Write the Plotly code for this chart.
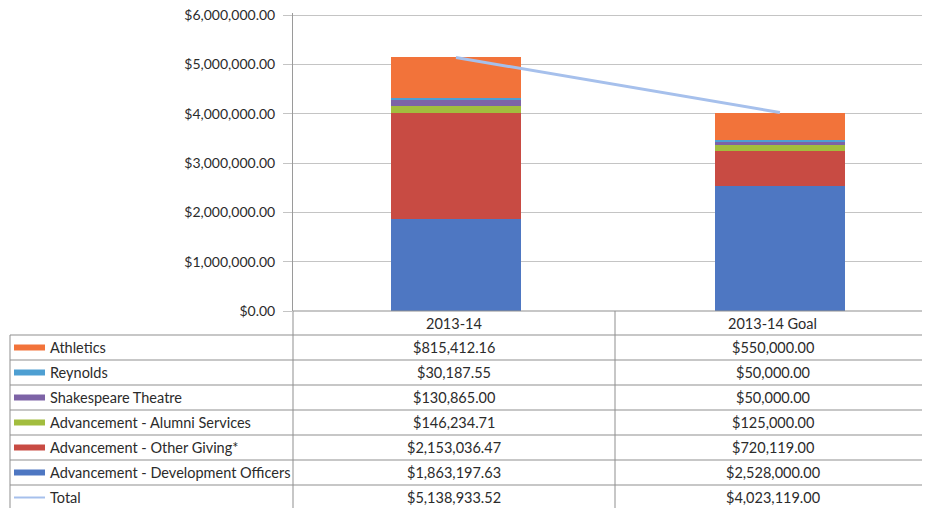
import plotly.graph_objects as go

categories = ["2013-14", "2013-14 Goal"]
series_names = [
    "Athletics",
    "Reynolds",
    "Shakespeare Theatre",
    "Advancement - Alumni Services",
    "Advancement - Other Giving*",
    "Advancement - Development Officers",
]
athletics = [815412.16, 550000.00]
reynolds = [30187.55, 50000.00]
shakespeare = [130865.00, 50000.00]
alumni = [146234.71, 125000.00]
other_giving = [2153036.47, 720119.00]
dev_officers = [1863197.63, 2528000.00]
total = [5138933.52, 4023119.00]

colors = {
    "Athletics": "#F2733A",
    "Reynolds": "#4E9FD2",
    "Shakespeare Theatre": "#7D63A6",
    "Advancement - Alumni Services": "#A2BD3E",
    "Advancement - Other Giving*": "#C84B43",
    "Advancement - Development Officers": "#4E77C2",
}
line_color = "#A6C0EC"

values = {
    "Athletics": athletics,
    "Reynolds": reynolds,
    "Shakespeare Theatre": shakespeare,
    "Advancement - Alumni Services": alumni,
    "Advancement - Other Giving*": other_giving,
    "Advancement - Development Officers": dev_officers,
}

W, H = 930, 508
OFF = 8  # page body margin offset
FONT = "Lato, 'Open Sans', sans-serif"
FS = 14.5
TICK_FS = 14
TXT = "#2b2b2b"
GRID = "#C4C4C4"


def px(x):
    return (x - OFF) / W


def py(y):
    return 1 - (y - OFF) / H


fig = go.Figure()
for name in reversed(series_names):
    fig.add_trace(go.Bar(
        x=[0, 1], y=values[name], name=name,
        marker=dict(color=colors[name], line=dict(width=0)),
        width=0.4,
    ))
fig.add_trace(go.Scatter(
    x=[0, 1], y=total, mode="lines", name="Total",
    line=dict(color=line_color, width=3),
))

plot_left, plot_bottom = 293, 311
y_max = 6.05e6
px_per_unit = 296 / 6e6
plot_top = plot_bottom - y_max * px_per_unit

shapes = []
annotations = []

col_x = [10, 293, 615, 930]
row_top = 311
row_h = 25
header_bottom = 335
n_rows = len(series_names) + 1
line_style = dict(color="#8f8f8f", width=1)

shapes.append(dict(type="line", xref="paper", yref="paper",
                   x0=px(col_x[1]), x1=1, y0=py(row_top), y1=py(row_top), line=line_style))
for i in range(n_rows + 1):
    yy = header_bottom + i * row_h
    shapes.append(dict(type="line", xref="paper", yref="paper",
                       x0=px(col_x[0]), x1=1, y0=py(yy), y1=py(yy), line=line_style))
shapes.append(dict(type="line", xref="paper", yref="paper",
                   x0=px(col_x[0]), x1=px(col_x[0]), y0=py(header_bottom), y1=0, line=line_style))
for cx in col_x[1:3]:
    shapes.append(dict(type="line", xref="paper", yref="paper",
                       x0=px(cx), x1=px(cx), y0=py(row_top), y1=0, line=line_style))

for j, cat in enumerate(categories):
    cxm = (col_x[j + 1] + col_x[j + 2]) / 2
    annotations.append(dict(xref="paper", yref="paper", x=px(cxm), y=py(row_top + 12),
                            text=cat, showarrow=False, xanchor="center", yanchor="middle",
                            font=dict(family=FONT, size=FS, color=TXT)))

rows = series_names + ["Total"]
row_vals = [values[n] for n in series_names] + [total]
for i, name in enumerate(rows):
    yc = header_bottom + i * row_h + row_h / 2
    if name == "Total":
        shapes.append(dict(type="line", xref="paper", yref="paper",
                           x0=px(14), x1=px(45), y0=py(yc), y1=py(yc),
                           line=dict(color=line_color, width=2)))
    else:
        shapes.append(dict(type="rect", xref="paper", yref="paper",
                           x0=px(14), x1=px(45), y0=py(yc - 3), y1=py(yc + 3),
                           fillcolor=colors[name], line=dict(width=0)))
    annotations.append(dict(xref="paper", yref="paper", x=px(48), y=py(yc),
                            text=name, showarrow=False, xanchor="left", yanchor="middle",
                            font=dict(family=FONT, size=FS, color=TXT)))
    for j in range(2):
        cxm = (col_x[j + 1] + col_x[j + 2]) / 2
        annotations.append(dict(xref="paper", yref="paper", x=px(cxm), y=py(yc),
                                text=f"${row_vals[i][j]:,.2f}", showarrow=False,
                                xanchor="center", yanchor="middle",
                                font=dict(family=FONT, size=FS, color=TXT)))

fig.update_layout(
    width=W, height=H,
    margin=dict(l=0, r=0, t=0, b=0, autoexpand=False),
    barmode="stack",
    showlegend=False,
    plot_bgcolor="white",
    paper_bgcolor="white",
    shapes=shapes,
    annotations=annotations,
    xaxis=dict(domain=[px(plot_left), 1], range=[-0.503, 1.488], automargin=False,
               showticklabels=False, showgrid=False, zeroline=False,
               showline=False, fixedrange=True),
    yaxis=dict(domain=[py(plot_bottom), py(plot_top)], range=[0, y_max], dtick=1e6,
               tick0=0, automargin=False, ticklabeloverflow="allow",
               tickformat="$,.2f", showgrid=True, gridcolor=GRID, gridwidth=1,
               zeroline=False, showline=True, linecolor="#9a9a9a",
               ticks="outside", ticklen=9, tickcolor=GRID,
               tickfont=dict(family=FONT, size=TICK_FS, color=TXT), ticklabelstandoff=5),
)

fig.write_html("out.html")
